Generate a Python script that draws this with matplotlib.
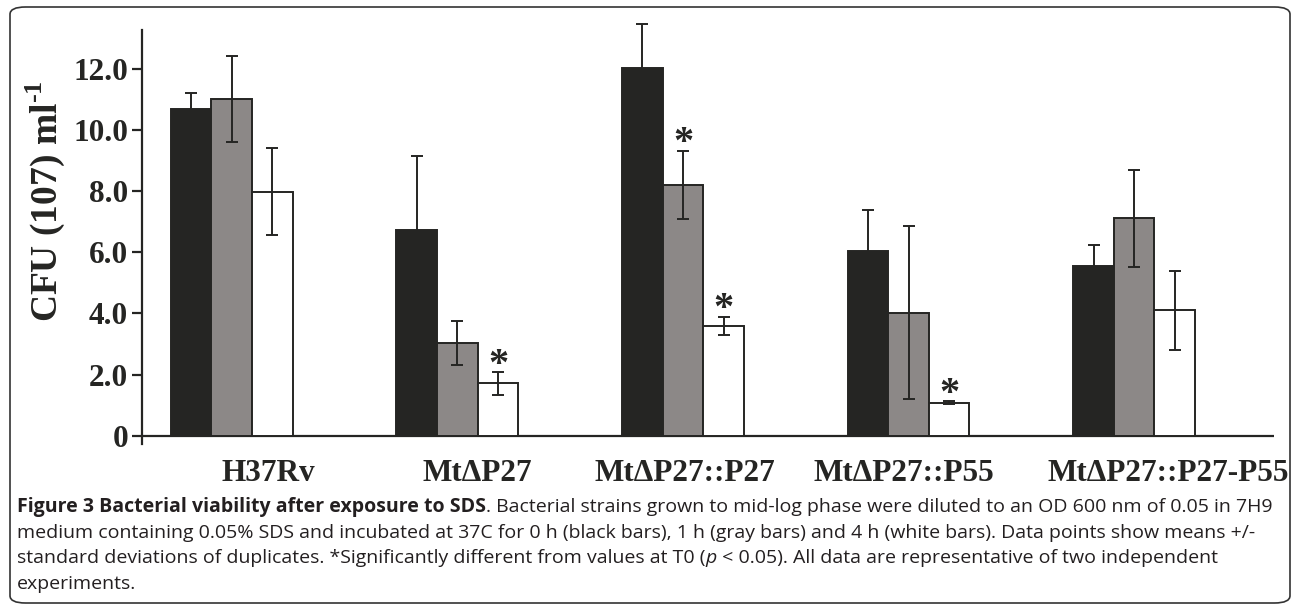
import numpy as np
import matplotlib
matplotlib.use('Agg')
from matplotlib import pyplot as plt
from matplotlib.patches import FancyBboxPatch

# data (CFU x 10^7 per ml)
strains = ['H37Rv', 'Mt\u0394P27', 'Mt\u0394P27::P27', 'Mt\u0394P27::P55', 'Mt\u0394P27::P27-P55']
t0h = [10.67, 6.72, 12.03, 6.05, 5.56]
t0h_err = [0.55, 2.43, 1.43, 1.34, 0.68]
t1h = [11.02, 3.02, 8.20, 4.02, 7.11]
t1h_err = [1.40, 0.72, 1.12, 2.83, 1.58]
t4h = [7.98, 1.71, 3.60, 1.08, 4.10]
t4h_err = [1.42, 0.37, 0.29, 0.05, 1.29]
# significance marks (*) vs T0
t1h_sig = [False, False, True, False, False]
t4h_sig = [False, True, True, True, False]
yticks = [0, 2, 4, 6, 8, 10, 12]
yticklabels = ['0', '2.0', '4.0', '6.0', '8.0', '10.0', '12.0']

serif = 'Liberation Serif'
sans = ['Open Sans', 'DejaVu Sans']
dark = '#252523'
gray = '#8c8887'

plt.rcParams['mathtext.fontset'] = 'custom'
plt.rcParams['mathtext.rm'] = 'Liberation Serif:bold'
plt.rcParams['mathtext.bf'] = 'Liberation Serif:bold'

fig = plt.figure(figsize=(12.93, 6.06), dpi=100)
ax = fig.add_axes([142/1293, 1-444/606, (1274-142)/1293, (444-30)/606])

x = np.arange(len(strains))
w = 0.18
series = [(t0h, t0h_err, dark, None), (t1h, t1h_err, gray, t1h_sig), (t4h, t4h_err, 'white', t4h_sig)]
for i, (vals, errs, col, sig) in enumerate(series):
    xs = x + (i - 1) * w
    ax.bar(xs, vals, w, color=col, edgecolor=dark, linewidth=1.4, zorder=2)
    eb = ax.errorbar(xs, vals, yerr=errs, fmt='none', ecolor=dark, elinewidth=1.4,
                     capsize=4, capthick=1.4, zorder=3)
    for art in eb.lines[1] + eb.lines[2]:
        art.set_clip_on(False)
    if sig is not None:
        for xi, v, e, s in zip(xs, vals, errs, sig):
            if s:
                ax.annotate('*', (xi, v + e), xytext=(0, 5), textcoords='offset points',
                            ha='center', va='center', fontsize=29, family=serif,
                            fontweight='bold', color=dark)

ax.set_xlim(-0.398, 4.62)
ax.set_ylim(-0.27, 13.27)
ax.axhline(0, color=dark, lw=1.6, zorder=1)
for s in ['top', 'right', 'bottom']:
    ax.spines[s].set_visible(False)
ax.spines['left'].set_linewidth(1.6)
ax.spines['left'].set_color(dark)

ax.set_yticks(yticks)
ax.set_yticklabels(yticklabels, fontsize=22.5, family=serif, fontweight='bold', color=dark)
ax.tick_params(axis='y', length=7, width=1.6, color=dark, pad=3)

label_shift = [0.16, 0.09, 0.01, -0.02, 0.15]
ax.set_xticks(x + np.array(label_shift))
ax.set_xticklabels(strains, fontsize=22.5, family=serif, fontweight='bold', color=dark)
ax.tick_params(axis='x', length=0, pad=11)

fig.text(45/1293, 1-201/606, 'CFU (107) ml$^{\\mathbf{\u20101}}$', rotation=90,
         ha='center', va='center', fontsize=27, family=serif, fontweight='bold', color=dark)

# caption
cap_fs = 14
cx = 17/1293
lines_y = [507, 533, 558, 584]
t = fig.text(cx, 1-lines_y[0]/606, 'Figure 3 Bacterial viability after exposure to SDS',
             fontsize=cap_fs, family=sans, fontweight='bold', color='#231f20', va='center')
fig.canvas.draw()
fig.text(t.get_window_extent().x1/1293, 1-lines_y[0]/606,
         '. Bacterial strains grown to mid-log phase were diluted to an OD 600 nm of 0.05 in 7H9',
         fontsize=cap_fs, family=sans, color='#231f20', va='center')
fig.text(cx, 1-lines_y[1]/606,
         'medium containing 0.05% SDS and incubated at 37C for 0 h (black bars), 1 h (gray bars) and 4 h (white bars). Data points show means +/-',
         fontsize=cap_fs, family=sans, color='#231f20', va='center')
t3 = fig.text(cx, 1-lines_y[2]/606,
              'standard deviations of duplicates. *Significantly different from values at T0 (',
              fontsize=cap_fs, family=sans, color='#231f20', va='center')
fig.canvas.draw()
t3b = fig.text(t3.get_window_extent().x1/1293, 1-lines_y[2]/606, 'p',
               fontsize=cap_fs, family=sans, style='italic', color='#231f20', va='center')
fig.canvas.draw()
fig.text(t3b.get_window_extent().x1/1293, 1-lines_y[2]/606,
         ' < 0.05). All data are representative of two independent',
         fontsize=cap_fs, family=sans, color='#231f20', va='center')
fig.text(cx, 1-lines_y[3]/606, 'experiments.',
         fontsize=cap_fs, family=sans, color='#231f20', va='center')

frame = FancyBboxPatch((10/1293, 1-603/606), (1290-10)/1293, (603-7)/606,
                       boxstyle='round,pad=0,rounding_size=0.012', transform=fig.transFigure,
                       facecolor='none', edgecolor='#333333', lw=1.2)
fig.patches.append(frame)

fig.savefig('out.png', dpi=100)
